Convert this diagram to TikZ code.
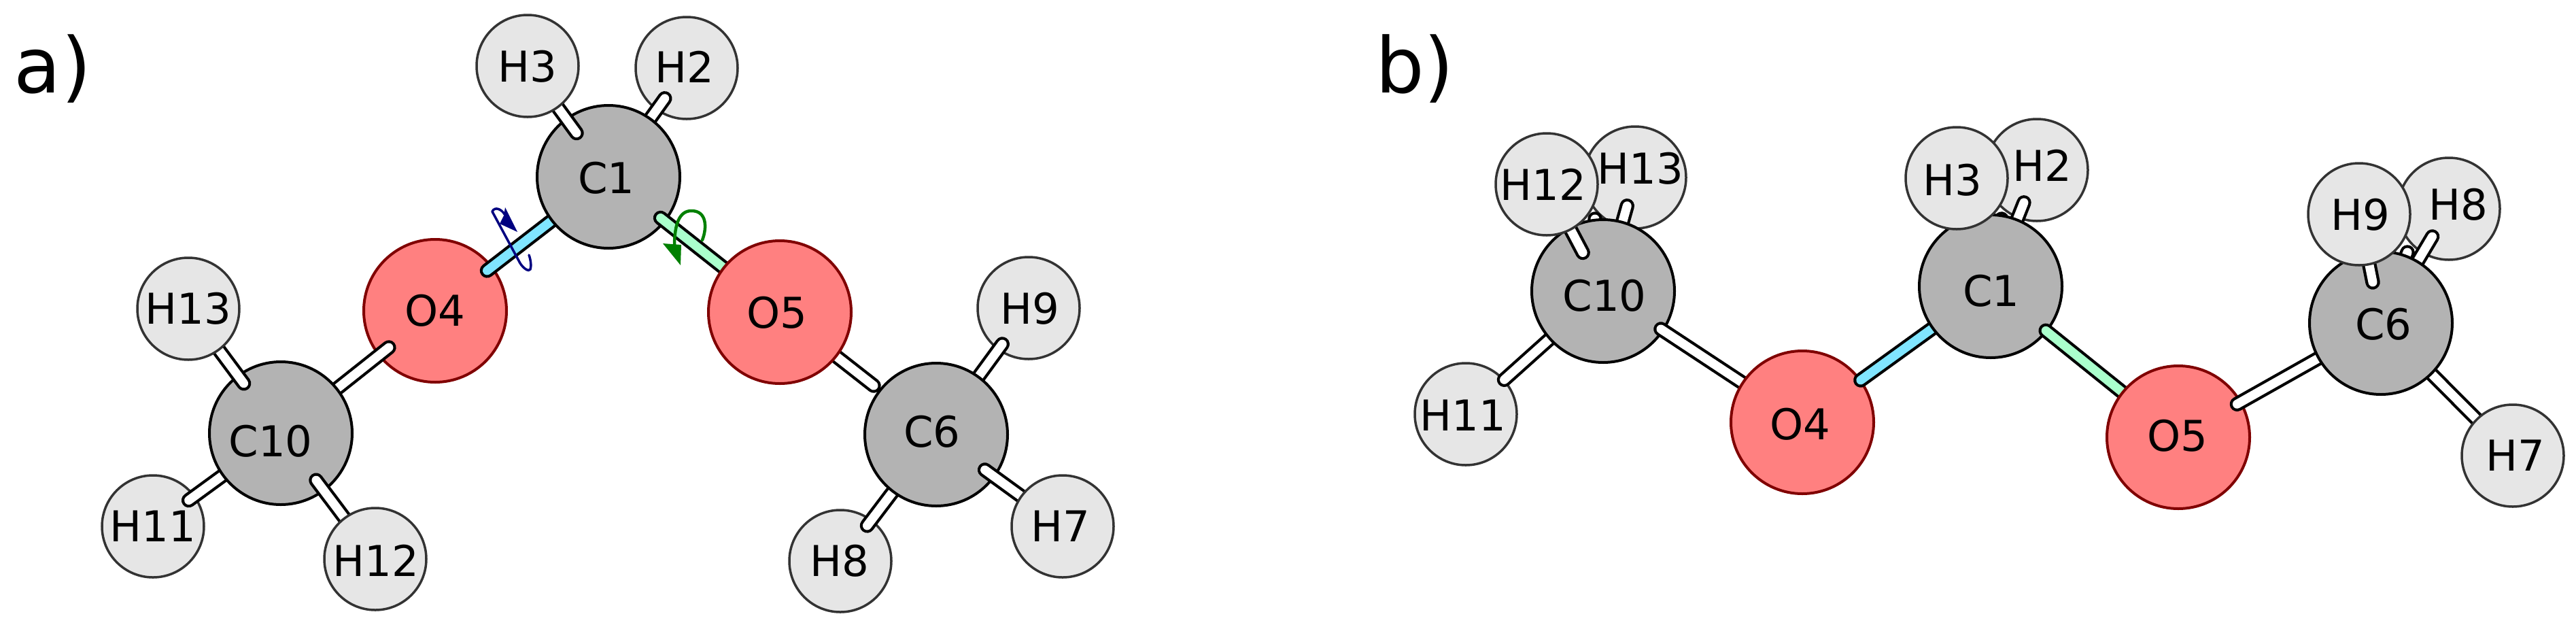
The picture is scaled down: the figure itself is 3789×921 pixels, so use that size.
\documentclass[tikz,border=0pt]{standalone}
\usepackage{fontspec}
\setmainfont{DejaVu Sans}
\usetikzlibrary{calc}
\pgfdeclarelayer{a1}\pgfdeclarelayer{b1}\pgfdeclarelayer{a2}\pgfdeclarelayer{b2}
\pgfdeclarelayer{a3}\pgfdeclarelayer{b3}\pgfdeclarelayer{a4}\pgfdeclarelayer{b4}
\pgfdeclarelayer{a5}\pgfdeclarelayer{b5}\pgfdeclarelayer{a6}\pgfdeclarelayer{b6}
\pgfdeclarelayer{a7}
\pgfsetlayers{a1,b1,a2,b2,a3,b3,a4,b4,a5,b5,a6,b6,a7,main}
\definecolor{cfill}{HTML}{B3B3B3}
\definecolor{hfill}{HTML}{E6E6E6}
\definecolor{ofill}{HTML}{FF8080}
\definecolor{oline}{HTML}{800000}
\definecolor{hline}{HTML}{333333}
\definecolor{bcyan}{HTML}{80E5FF}
\definecolor{bgreen}{HTML}{AAFFCC}
\definecolor{rotblue}{HTML}{000080}
\definecolor{rotgreen}{HTML}{008000}
\tikzset{
  atomshape/.style={circle,inner sep=0pt,line width=0.8pt},
  catom/.style={atomshape,minimum size=42pt,draw=black,fill=cfill},
  oatom/.style={atomshape,minimum size=42pt,draw=oline,fill=ofill},
  hatom/.style={atomshape,minimum size=30pt,draw=hline,fill=hfill,line width=0.7pt},
  every label/.style={font=\fontsize{12.5}{13}\selectfont,inner sep=0pt,text=black},
  bondline/.style={line width=0.85pt,draw=black,double=#1,double distance=2.6pt,line cap=round},
  bondline/.default=white,
  panel/.style={font=\fontsize{22.6}{24}\selectfont,inner sep=0pt,anchor=base west},
  rotb/.style={draw=rotblue,line width=0.7pt,line cap=round},
  rotg/.style={draw=rotgreen,line width=0.9pt,line cap=round},
}
% style, layer, name, position, text, text dx, text dy (px)
\newcommand\atomnode[7]{\begin{pgfonlayer}{#2}\node[#1,label={[xshift=#6*0.2pt,yshift=#7*(-0.2pt)]center:#5}] (#3) at (#4) {};\end{pgfonlayer}}
% layer, front node, fraction, back node, colour
\newcommand\bondpart[5]{\begin{pgfonlayer}{#1}\draw[bondline=#5] (#2.center) -- ($(#2.center)!#3!(#4.center)$);\end{pgfonlayer}}
\begin{document}
\begin{tikzpicture}[x=0.2pt,y=-0.2pt]
\useasboundingbox (0,0) rectangle (3789,921);
\node[panel] (la) at (20,136) {a)};
\node[panel] (lb) at (2022,136) {b)};
% panel a atoms
\atomnode{hatom}{a1}{aH11}{225,774}{H11}{0}{0}
\atomnode{hatom}{a1}{aH2}{1010,100}{H2}{-3}{-2}
\atomnode{hatom}{a1}{aH8}{1236,825}{H8}{-1}{0}
\atomnode{hatom}{a1}{aH9}{1513,453}{H9}{2}{1}
\atomnode{oatom}{a1}{aO4}{640,457}{O4}{0}{0}
\atomnode{catom}{a2}{aC10}{413,637}{C10}{-15}{12}
\atomnode{catom}{a2}{aC1}{895,260}{C1}{-3}{2}
\atomnode{catom}{a2}{aC6}{1377,639}{C6}{-6}{-4}
\atomnode{hatom}{a3}{aH13}{277,454}{H13}{0}{0}
\atomnode{hatom}{a3}{aH12}{552,822}{H12}{1}{2}
\atomnode{hatom}{a3}{aH3}{776,97}{H3}{0}{1}
\atomnode{hatom}{a3}{aH7}{1563,774}{H7}{-3}{0}
\atomnode{oatom}{a3}{aO5}{1147,459}{O5}{-4}{1}
% panel a bonds
\bondpart{b1}{aC10}{0.72}{aH11}{white}
\bondpart{b1}{aC10}{0.70}{aO4}{white}
\bondpart{b1}{aC1}{0.72}{aH2}{white}
\bondpart{b1}{aC6}{0.715}{aH9}{white}
\bondpart{b1}{aC6}{0.72}{aH8}{white}
\bondpart{b1}{aC1}{0.70}{aO4}{bcyan}
\bondpart{b1}{aO5}{0.60}{aC6}{white}
\bondpart{b2}{aH13}{0.60}{aC10}{white}
\bondpart{b2}{aH12}{0.626}{aC10}{white}
\bondpart{b2}{aH3}{0.605}{aC1}{white}
\bondpart{b2}{aH7}{0.615}{aC6}{white}
\bondpart{b2}{aO5}{0.696}{aC1}{bgreen}
% panel b atoms
\atomnode{hatom}{a1}{bH11}{2156,609}{H11}{-4}{2}
\atomnode{hatom}{a1}{bH13}{2405,261}{H13}{8}{-13}
\atomnode{hatom}{a1}{bH2}{2996,250}{H2}{8}{-7}
\atomnode{hatom}{a1}{bH8}{3602,307}{H8}{14}{-6}
\atomnode{catom}{a2}{bC10}{2358,428}{C10}{2}{7}
\atomnode{hatom}{a2}{bH7}{3696,670}{H7}{4}{0}
\atomnode{oatom}{a3}{bO4}{2651,621}{O4}{-3}{3}
\atomnode{hatom}{a3}{bH12}{2275,271}{H12}{-5}{0}
\atomnode{catom}{a4}{bC1}{2928,421}{C1}{1}{7}
\atomnode{hatom}{a4}{bH3}{2878,262}{H3}{-6}{3}
\atomnode{oatom}{a5}{bO5}{3204,643}{O5}{-1}{-2}
\atomnode{catom}{a6}{bC6}{3502,475}{C6}{4}{2}
\atomnode{hatom}{a7}{bH9}{3470,315}{H9}{2}{1}
% small bond ends seen in the gap next to the front hydrogens
\coordinate (tipA) at (2346,322);
\coordinate (tipB) at (2944,322);
\coordinate (tipC) at (3541,371);
\begin{pgfonlayer}{b1}
\draw[bondline] (bC10.center) -- (tipA);
\draw[bondline] (bC1.center) -- (tipB);
\draw[bondline] (bC6.center) -- (tipC);
\end{pgfonlayer}
% panel b bonds
\bondpart{b1}{bC10}{0.72}{bH11}{white}
\bondpart{b1}{bC10}{0.75}{bH13}{white}
\bondpart{b1}{bC1}{0.72}{bH2}{white}
\bondpart{b1}{bC6}{0.756}{bH8}{white}
\bondpart{b1}{bC6}{0.80}{bH7}{white}
\bondpart{b2}{bO4}{0.71}{bC10}{white}
\bondpart{b2}{bH12}{0.64}{bC10}{white}
\bondpart{b3}{bC1}{0.69}{bO4}{bcyan}
\bondpart{b3}{bH3}{0.62}{bC1}{white}
\bondpart{b4}{bO5}{0.706}{bC1}{bgreen}
\bondpart{b5}{bC6}{0.71}{bO5}{white}
\bondpart{b6}{bH9}{0.625}{bC6}{white}
% rotation markers
\draw[rotg] (1033,353) .. controls (1040,335) and (1040,310) .. (1017,310) .. controls (1000,310) and (992,328) .. (992,362);
\fill[rotgreen] (975,358) -- (1001,390) -- (1002,360) -- cycle;
\draw[rotb] (724,311) -- (765,387) .. controls (770,395) and (778,400) .. (780,396) .. controls (782,390) and (780,380) .. (778,375);
\draw[rotb] (724,311) .. controls (728,303) and (738,308) .. (742,315);
\fill[rotblue] (743,305) -- (761,341) -- (735,329) -- (741,317) -- cycle;
\end{tikzpicture}
\end{document}
